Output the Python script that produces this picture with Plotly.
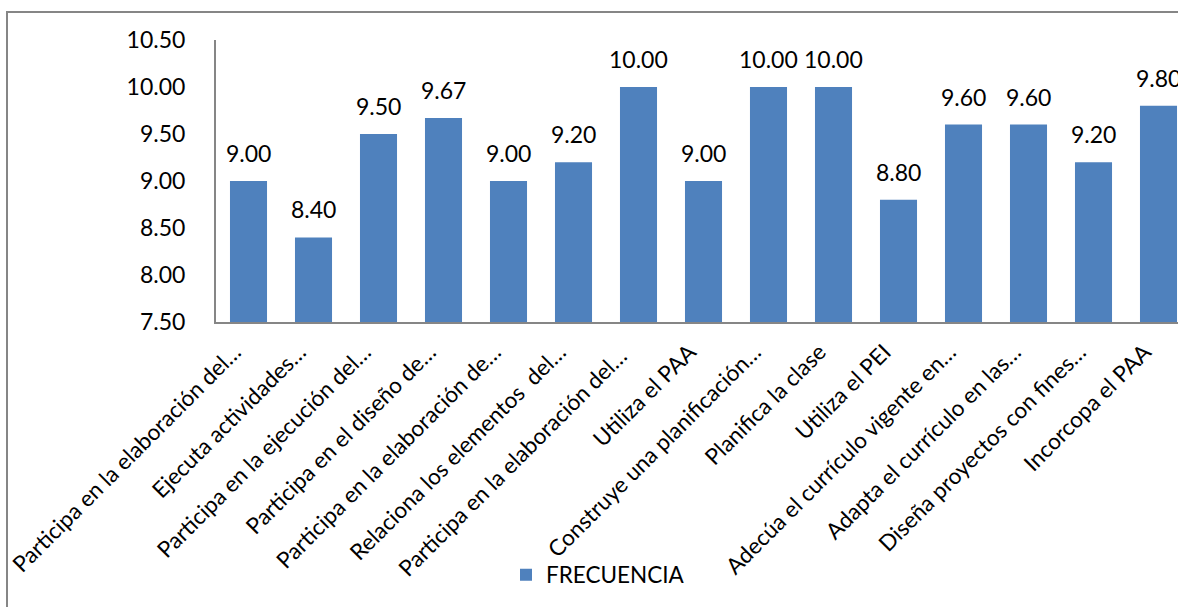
import plotly.graph_objects as go

categories = [
    "Participa en la elaboración del…",
    "Ejecuta actividades…",
    "Participa en la ejecución del…",
    "Participa en el diseño de…",
    "Participa en la elaboración de…",
    "Relaciona los elementos  del…",
    "Participa en la elaboración del… ",
    "Utiliza el PAA",
    "Construye una planificación…",
    "Planifica la clase",
    "Utiliza el PEI",
    "Adecúa el currículo vigente en…",
    "Adapta el currículo en las…",
    "Diseña proyectos con fines…",
    "Incorcopa el PAA",
]
values = [9.00, 8.40, 9.50, 9.67, 9.00, 9.20, 10.00, 9.00, 10.00, 10.00, 8.80, 9.60, 9.60, 9.20, 9.80]
series_name = "FRECUENCIA"
y_ticks = [7.5, 8.0, 8.5, 9.0, 9.5, 10.0, 10.5]
y_base = 7.5

W, H = 1178, 607
L, T, B = 216, 40, 322
FONT = "Lato"
BAR = "#4F81BD"

fig = go.Figure()
fig.add_trace(go.Bar(
    x=list(range(len(categories))),
    y=[v - y_base for v in values],
    base=y_base,
    name=series_name,
    marker=dict(color=BAR, line=dict(width=0)),
    width=0.57,
    showlegend=True,
    hovertext=categories,
))

for i, v in enumerate(values):
    fig.add_annotation(
        x=i, y=v, text=f"{v:.2f}", showarrow=False,
        yanchor="bottom", yshift=12,
        font=dict(family=FONT, size=23, color="#000000"),
    )

plot_h = B - T
fig.update_layout(
    width=W, height=H,
    margin=dict(l=L, r=0, t=T, b=H - B, autoexpand=False),
    paper_bgcolor="white", plot_bgcolor="white",
    font=dict(family=FONT, size=22, color="#000000"),
    xaxis=dict(
        range=[-0.5, 14.3],
        tickmode="array",
        tickvals=list(range(len(categories))),
        ticktext=categories,
        tickangle=-45,
        showgrid=False, zeroline=False,
        showline=True, linecolor="#868686", linewidth=2,
        ticks="", tickfont=dict(family=FONT, size=22.5),
        ticklabelshift=-14, ticklabelstandoff=6,
        automargin=False,
    ),
    yaxis=dict(
        range=[7.5, 10.5],
        tickmode="array",
        tickvals=y_ticks,
        ticktext=[f"{t:.2f}" for t in y_ticks],
        showgrid=False, zeroline=False,
        showline=True, linecolor="#868686", linewidth=2,
        ticks="", ticklabelstandoff=24,
        tickfont=dict(family=FONT, size=23),
        automargin=False,
    ),
    legend=dict(
        orientation="h", x=(506 - L) / (W - L), xanchor="left",
        y=(B - 575) / plot_h, yanchor="middle",
        font=dict(family=FONT, size=22.5),
        bgcolor="rgba(0,0,0,0)",
    ),
    shapes=[dict(
        type="rect", xref="paper", yref="paper",
        x0=(7 - L) / (W - L), x1=1.2,
        y0=(B - 700) / plot_h, y1=(B - 12) / plot_h,
        line=dict(color="#868686", width=2), fillcolor="rgba(0,0,0,0)",
        layer="below",
    )],
)

fig.write_html("out.html")
